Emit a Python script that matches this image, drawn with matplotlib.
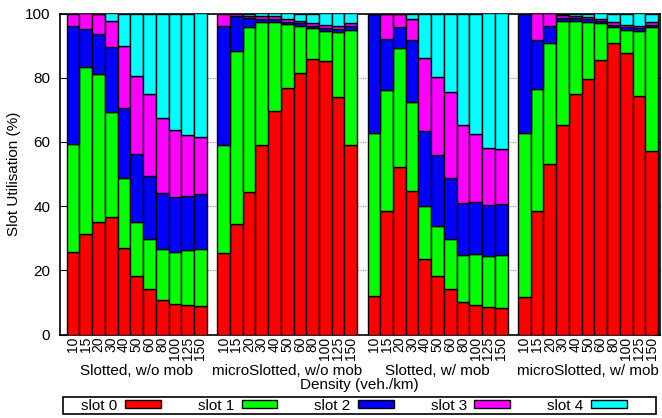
import matplotlib
matplotlib.use("Agg")
import matplotlib.pyplot as plt
import matplotlib.transforms as mtransforms
from matplotlib.patches import Patch, Rectangle
import numpy as np

plt.rcParams['font.family'] = ['Liberation Sans', 'DejaVu Sans']

densities = ["10", "15", "20", "30", "40", "50", "60", "80", "100", "125", "150"]
groups = ["Slotted, w/o mob", "microSlotted, w/o mob", "Slotted, w/ mob", "microSlotted, w/ mob"]
slot_names = ["slot 0", "slot 1", "slot 2", "slot 3", "slot 4"]
colors = ["#ff0000", "#00ff00", "#0000ff", "#ff00ff", "#00ffff"]

# values per group: rows = density, columns = slot 0..4 (percent)
slotted_womob = [
    [25.6, 33.6, 36.9, 3.9, 0.0],
    [31.2, 52.0, 11.9, 4.9, 0.0],
    [35.1, 45.9, 12.5, 6.5, 0.0],
    [36.5, 32.7, 20.3, 8.2, 2.3],
    [27.0, 21.9, 21.7, 19.4, 10.0],
    [18.2, 16.9, 21.0, 24.4, 19.5],
    [14.2, 15.4, 19.9, 25.5, 25.0],
    [10.8, 15.7, 17.6, 23.2, 32.7],
    [9.5, 16.3, 16.9, 20.9, 36.4],
    [9.2, 17.1, 16.9, 19.1, 37.7],
    [8.9, 17.6, 17.2, 17.7, 38.6],
]
micro_womob = [
    [25.4, 33.6, 37.1, 3.9, 0.0],
    [34.3, 54.1, 10.8, 0.8, 0.0],
    [44.3, 51.5, 2.7, 0.8, 0.7],
    [59.0, 38.5, 0.8, 0.9, 0.8],
    [69.6, 27.9, 0.9, 0.7, 0.9],
    [76.9, 19.7, 0.9, 0.8, 1.7],
    [81.6, 14.6, 0.8, 0.8, 2.2],
    [85.8, 9.6, 0.8, 0.8, 3.0],
    [85.2, 9.4, 0.9, 0.8, 3.7],
    [73.9, 20.4, 0.9, 0.9, 3.9],
    [59.0, 35.9, 1.1, 1.0, 3.0],
]
slotted_wmob = [
    [12.0, 50.7, 37.3, 0.0, 0.0],
    [38.5, 37.7, 15.8, 8.0, 0.0],
    [52.1, 37.3, 6.3, 4.3, 0.0],
    [44.7, 27.8, 19.3, 6.4, 1.8],
    [23.4, 16.6, 23.4, 22.8, 13.8],
    [18.2, 15.6, 22.1, 24.3, 19.8],
    [14.1, 15.5, 19.2, 26.9, 24.3],
    [10.2, 14.5, 16.2, 24.4, 34.7],
    [9.2, 16.0, 16.2, 21.2, 37.4],
    [8.5, 16.0, 15.9, 17.8, 41.8],
    [8.2, 16.6, 15.9, 17.0, 42.3],
]
micro_wmob = [
    [11.6, 51.2, 37.2, 0.0, 0.0],
    [38.5, 37.9, 15.4, 8.2, 0.0],
    [53.1, 37.6, 5.4, 3.9, 0.0],
    [65.3, 32.5, 0.8, 0.8, 0.6],
    [75.0, 22.7, 0.8, 0.8, 0.7],
    [79.6, 17.9, 0.7, 0.7, 1.1],
    [85.5, 11.4, 0.7, 0.7, 1.7],
    [90.7, 5.1, 0.7, 0.8, 2.7],
    [87.8, 7.1, 0.8, 0.8, 3.5],
    [74.4, 20.2, 0.8, 0.8, 3.8],
    [57.3, 38.4, 0.8, 0.8, 2.7],
]
all_groups = [slotted_womob, micro_womob, slotted_wmob, micro_wmob]

FS = 11
W, H = 662, 418
fig = plt.figure(figsize=(W / 100, H / 100), dpi=100)
ax_left, ax_right, ax_top, ax_bot = 60, 659.5, 13.5, 334.5
ax = fig.add_axes([ax_left / W, 1 - ax_bot / H, (ax_right - ax_left) / W, (ax_bot - ax_top) / H])

gap = 0.82
n = len(densities)
tick_pos, tick_lab, centers = [], [], []
for g, data in enumerate(all_groups):
    arr = np.array(data)
    xs = g * (n + gap) + np.arange(n)
    bottom = np.zeros(n)
    for s in range(5):
        ax.bar(xs, arr[:, s], width=1.0, bottom=bottom, color=colors[s],
               edgecolor="black", linewidth=1.0, zorder=3)
        bottom += arr[:, s]
    tick_pos.extend(xs)
    tick_lab.extend(densities)
    centers.append(xs.mean())

ax.set_xlim(-1.03, 3 * (n + gap) + n - 1 + 0.5 + 0.12)
ax.set_ylim(0, 100)
ax.set_yticks([0, 20, 40, 60, 80, 100])
ax.tick_params(axis='y', direction='in', length=5, right=True, labelsize=FS, width=0.8, pad=7)
ax.set_xticks(tick_pos)
ax.set_xticklabels(tick_lab, rotation=90, fontsize=10)
ax.tick_params(axis='x', length=0, pad=1.5)
for yv in [20, 40, 60, 80]:
    ax.axhline(yv, color="#555555", linestyle=(0, (1, 2)), linewidth=0.6, zorder=1)
for sp in ax.spines.values():
    sp.set_linewidth(1.2)

ax.set_ylabel("Slot Utilisation (%)", fontsize=FS)
ax.yaxis.set_label_coords((21 - ax_left) / (ax_right - ax_left), 0.5)

trans = mtransforms.blended_transform_factory(ax.transData, fig.transFigure)
for c, name in zip(centers, groups):
    ax.text(c, 1 - 371 / H, name, transform=trans, ha='center', va='center', fontsize=FS)
fig.text((ax_left + ax_right) / 2 / W, 1 - 384.5 / H, "Density (veh./km)", ha='center', va='center', fontsize=FS)

# legend frame
fig.add_artist(Rectangle((63 / W, 1 - 414 / H), 593 / W, 17 / H, transform=fig.transFigure,
                         facecolor='white', edgecolor='black', linewidth=1.2, zorder=0))
handles = [Patch(facecolor=colors[i], edgecolor='black', linewidth=1.0) for i in range(5)]
leg = fig.legend(handles, slot_names, loc='center', ncol=5,
                 bbox_to_anchor=(354 / W, 1 - 405.5 / H),
                 markerfirst=False, fontsize=FS, handlelength=2.35, handleheight=0.5,
                 handletextpad=0.5, columnspacing=2.4, borderpad=0.1, frameon=False,
                 borderaxespad=0)

fig.savefig("out.png", dpi=100)
